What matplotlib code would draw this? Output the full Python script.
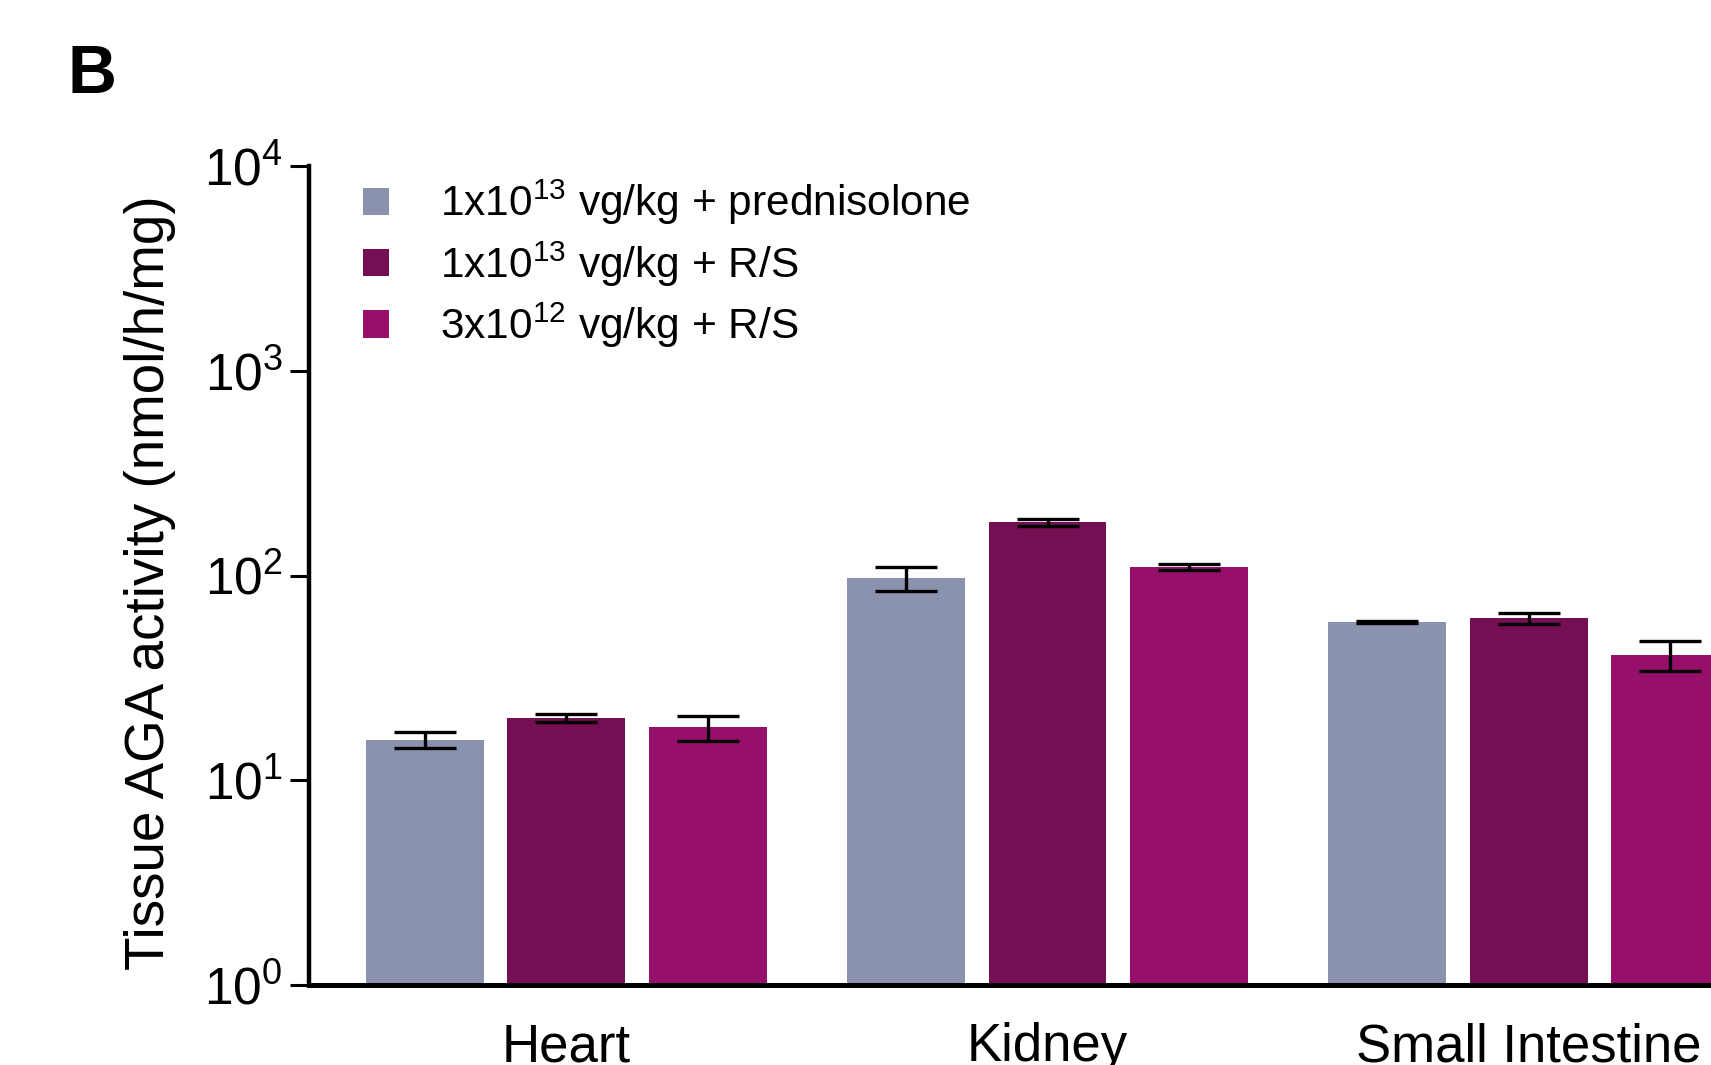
import matplotlib
matplotlib.use("Agg")
import matplotlib.pyplot as plt
import numpy as np
from matplotlib.patches import Patch

plt.rcParams['font.family'] = ['Liberation Sans', 'DejaVu Sans']
plt.rcParams['mathtext.fontset'] = 'custom'
plt.rcParams['mathtext.rm'] = 'Liberation Sans'
plt.rcParams['mathtext.it'] = 'Liberation Sans:italic'
plt.rcParams['mathtext.bf'] = 'Liberation Sans:bold'
plt.rcParams['mathtext.default'] = 'regular'

categories = ["Heart", "Kidney", "Small Intestine"]
series_labels = [r"1x10$^{13}$ vg/kg + prednisolone",
                 r"1x10$^{13}$ vg/kg + R/S",
                 r"3x10$^{12}$ vg/kg + R/S"]
pred_1e13 = [15.8, 97.0, 59.4]
pred_1e13_err = [1.5, 13.0, 0.6]
rs_1e13 = [20.2, 181.6, 61.7]
rs_1e13_err = [0.9, 7.0, 4.0]
rs_3e12 = [18.1, 110.0, 41.1]
rs_3e12_err = [2.6, 4.0, 6.8]
colors = ["#8A92AE", "#750E52", "#960F6A"]

values = [pred_1e13, rs_1e13, rs_3e12]
errors = [pred_1e13_err, rs_1e13_err, rs_3e12_err]

W, H = 1711, 1065
fig = plt.figure(figsize=(W / 100, H / 100), dpi=100)
ax = fig.add_axes([309 / W, 80 / H, 1 - 309 / W, 819 / H])

x = np.arange(len(categories))
step = 0.294
width = 0.245
for i, (v, e, c) in enumerate(zip(values, errors, colors)):
    ax.bar(x + (i - 1) * step, v, width, color=c, edgecolor='none',
           yerr=e, capsize=22,
           error_kw=dict(ecolor='black', elinewidth=2.4, capthick=2.4),
           label=series_labels[i], zorder=2)

ax.set_yscale('log')
ax.set_ylim(1, 1e4)
ax.set_xlim(-0.535, 2.379)
ax.yaxis.set_minor_locator(matplotlib.ticker.NullLocator())
ax.set_yticks([1, 10, 100, 1000, 10000])

ax.set_xticks(x)
ax.set_xticklabels(categories, fontsize=38)
ax.tick_params(axis='x', length=0, pad=27)
ax.tick_params(axis='y', length=14, width=2.2, pad=5, labelsize=37, direction='out')

for s in ['top', 'right']:
    ax.spines[s].set_visible(False)
ax.spines['left'].set_linewidth(3.2)
ax.spines['bottom'].set_linewidth(3.6)

fig.text(150 / W, 1 - 583 / H, "Tissue AGA activity (nmol/h/mg)", rotation=90,
         ha='center', va='center', fontsize=39.4)
fig.text(68 / W, 1 - 93 / H, "B", fontsize=49, fontweight='bold', va='baseline', ha='left')

handles = [Patch(facecolor=c, edgecolor='none') for c in colors]
leg = ax.legend(handles, series_labels, loc='upper left',
                bbox_to_anchor=(363 / W, 1 - 178 / H), bbox_transform=fig.transFigure,
                frameon=False, fontsize=30.5, handlelength=0.62, handleheight=0.62,
                handletextpad=1.2, labelspacing=0.28, borderpad=0, borderaxespad=0)

fig.savefig("out.png", dpi=100)
